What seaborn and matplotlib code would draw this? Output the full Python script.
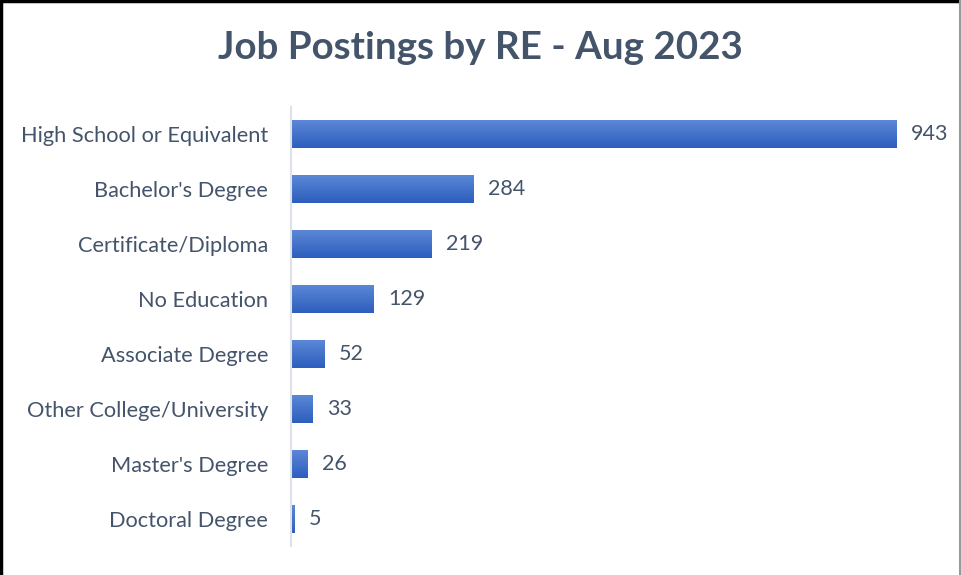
import matplotlib
matplotlib.use("Agg")
import matplotlib.pyplot as plt
import numpy as np
import pandas as pd
import seaborn as sns
from matplotlib.colors import LinearSegmentedColormap
from matplotlib.lines import Line2D

categories = [
    "High School or Equivalent",
    "Bachelor's Degree",
    "Certificate/Diploma",
    "No Education",
    "Associate Degree",
    "Other College/University",
    "Master's Degree",
    "Doctoral Degree",
]
postings = [943, 284, 219, 129, 52, 33, 26, 5]

title = "Job Postings by RE - Aug 2023"
text_color = "#44546A"

sns.set_theme(style="white")
plt.rcParams["font.family"] = ["Lato", "DejaVu Sans"]

df = pd.DataFrame({"education": categories, "postings": postings})

fig = plt.figure(figsize=(9.61, 5.75), dpi=100)
ax = fig.add_axes([0.3028, 0.0496, 0.675, 0.765])

sns.barplot(data=df, x="postings", y="education", color="#4472C4",
            width=0.5, saturation=1, ax=ax)

# Excel-like vertical gradient on each bar
grad = LinearSegmentedColormap.from_list("bar_grad", ["#5B87D6", "#2D5EBE"])
gradient = np.linspace(0, 1, 64).reshape(-1, 1)
for patch in ax.patches:
    x0, y0 = patch.get_x(), patch.get_y()
    w, h = patch.get_width(), patch.get_height()
    img = ax.imshow(gradient, cmap=grad, aspect="auto",
                    extent=[x0, x0 + w, y0 + h, y0], origin="upper", zorder=2)
    img.set_clip_path(patch)
    patch.set_facecolor("none")
    patch.set_edgecolor("none")

ax.bar_label(ax.containers[0], labels=[str(v) for v in postings], padding=10.5,
             fontsize=15.5, color=text_color)

ax.set_xlim(0, 1011)
ax.set_ylim(7.5, -0.5)
ax.set_xlabel("")
ax.set_ylabel("")
ax.set_xticks([])
ax.tick_params(axis="y", length=0, pad=16.5, labelsize=15.7, labelcolor=text_color)
for side in ["top", "right", "bottom"]:
    ax.spines[side].set_visible(False)
ax.spines["left"].set_color("#DDE2EA")
ax.spines["left"].set_linewidth(1.5)

fig.text(0.5, 0.917, title, ha="center", va="center", fontsize=27.7,
         fontweight="bold", color=text_color)

# outer frame like the chart area border
fig.add_artist(Line2D([0.001, 0.001], [0, 1], transform=fig.transFigure, color="black", lw=2.5))
fig.add_artist(Line2D([0, 1], [0.998, 0.998], transform=fig.transFigure, color="black", lw=2.5))
fig.add_artist(Line2D([0.9985, 0.9985], [0, 1], transform=fig.transFigure, color="#999999", lw=1.5))

fig.savefig("out.png", dpi=100, facecolor="white")
plt.close(fig)
